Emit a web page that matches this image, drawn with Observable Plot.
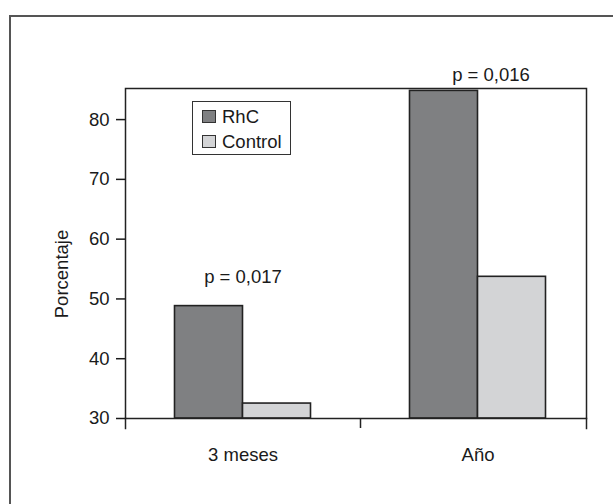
<!DOCTYPE html>
<html>
<head>
<meta charset="utf-8">
<script src="https://cdn.jsdelivr.net/npm/d3@7"></script>
<script src="https://cdn.jsdelivr.net/npm/@observablehq/plot@0.6"></script>
<style>
  html, body { margin: 0; padding: 0; background: #fff; }
  body { width: 613px; height: 504px; overflow: hidden; position: relative;
         font-family: "Liberation Sans", Arial, sans-serif; color: #1a1a1a; }
  #outer { position: absolute; left: 8.5px; top: 14.5px; width: 800px; height: 700px;
           border: 2px solid #555; box-sizing: border-box; }
  #chart { position: absolute; left: 0; top: 0; }
  #legend { position: absolute; left: 192px; top: 101px; width: 99px; height: 54px;
            border: 1.5px solid #333; box-sizing: border-box; background: #fff; }
  .item { position: absolute; left: 9px; font-size: 18.5px; line-height: 20px; color: #1a1a1a; }
  .sw { position: absolute; left: 0; top: 3px; width: 14px; height: 13px;
        border: 1.5px solid #333; box-sizing: border-box; }
  .lbl { position: absolute; left: 20px; top: 0; white-space: nowrap; }
</style>
</head>
<body>
<div id="outer"></div>
<div id="chart"></div>
<div id="legend"></div>
<script>
// ---- data ----
const categories = ["3 meses", "Año"];
const series = ["RhC", "Control"];
const rhcValues = [48.8, 84.8];
const controlValues = [32.5, 53.7];
const pLabels = ["p = 0,017", "p = 0,016"];
const yTicks = [30, 40, 50, 60, 70, 80];
const yLabel = "Porcentaje";
const colors = ["#7f8082", "#d3d4d6"];

const rows = [];
categories.forEach((c, i) => {
  rows.push({cat: c, series: series[0], value: rhcValues[i], label: pLabels[i]});
  rows.push({cat: c, series: series[1], value: controlValues[i], label: pLabels[i]});
});
const rhcRows = rows.filter(d => d.series === series[0]);

const font = {fontSize: 18.5, fontFamily: "'Liberation Sans', Arial, sans-serif"};

const chart = Plot.plot({
  width: 613,
  height: 504,
  marginLeft: 125,
  marginRight: 27,
  marginTop: 88,
  marginBottom: 86,
  style: {background: "transparent", color: "#1a1a1a", fontFamily: font.fontFamily, fontSize: "18.5px", overflow: "visible"},
  x: {type: "band", domain: categories, range: [125, 595], paddingInner: 0, paddingOuter: 0, round: false, axis: null},
  y: {domain: [yTicks[0], 85.2], axis: null},
  color: {domain: series, range: colors},
  marks: [
    Plot.barY(rows.filter(d => d.series === series[0]), {x: "cat", y1: yTicks[0], y2: "value", fill: "series",
      stroke: "#222", strokeWidth: 1.6, insetLeft: 49.5, insetRight: 117.5}),
    Plot.barY(rows.filter(d => d.series === series[1]), {x: "cat", y1: yTicks[0], y2: "value", fill: "series",
      stroke: "#222", strokeWidth: 1.6, insetLeft: 117.5, insetRight: 49.5}),
    Plot.frame({stroke: "#222", strokeWidth: 1.5}),
    Plot.axisY({ticks: yTicks, tickSize: 9, tickPadding: 7, tickFormat: d => d, label: null,
      fontSize: 18.5, strokeWidth: 1.5}),
    Plot.axisX({tickSize: 0, tickPadding: 29, label: null, fontSize: 18.5}),
    // boundary ticks on the x axis
    Plot.frame({anchor: "left", stroke: "#222", strokeWidth: 1.5, insetTop: 330, insetBottom: -10}),
    Plot.frame({anchor: "right", stroke: "#222", strokeWidth: 1.5, insetTop: 330, insetBottom: -10}),
    Plot.ruleX([categories[1]], {x: d => d, stroke: "#222", strokeWidth: 1.5, insetTop: 330, insetBottom: -10, dx: -117.5}),
    // p-value annotations
    Plot.text([rhcRows[0]], {x: "cat", y: "value", text: "label", fontSize: 18.5, dy: -29.3, fill: "#1a1a1a"}),
    Plot.text([rhcRows[1]], {x: "cat", y: "value", text: "label", fontSize: 18.5, dy: -15.6, dx: 13, fill: "#1a1a1a"}),
    // y-axis title
    Plot.text([yLabel], {text: d => d, frameAnchor: "left", textAnchor: "middle", rotate: -90, dx: -63, dy: 20.5, fontSize: 18.5, fill: "#1a1a1a"})
  ]
});
document.getElementById("chart").appendChild(chart);

// legend
const legend = document.getElementById("legend");
series.forEach((s, i) => {
  const item = document.createElement("div");
  item.className = "item";
  item.style.top = (5 + i * 25) + "px";
  item.innerHTML = `<div class="sw" style="background:${colors[i]}"></div><div class="lbl">${s}</div>`;
  legend.appendChild(item);
});
</script>
</body>
</html>
